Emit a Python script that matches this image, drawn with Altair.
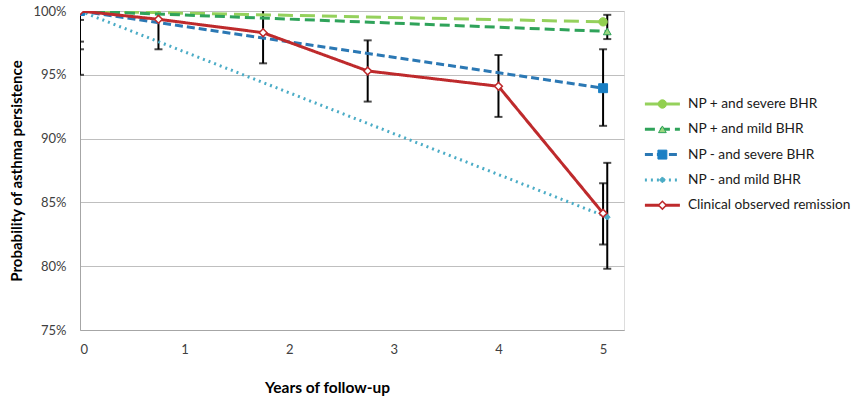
import altair as alt
import pandas as pd

# ---- data ----
series_names = ["NP + and severe BHR", "NP + and mild BHR", "NP - and severe BHR",
                "NP - and mild BHR", "Clinical observed remission"]
years_severe = [0, 5]
years_mild = [0, 5.04]
np_pos_severe = [100, 99.15]
np_pos_mild = [100, 98.4]
np_neg_severe = [100, 93.95]
np_neg_mild = [100, 83.85]
clinical_years = [0, 0.75, 1.75, 2.75, 4, 5]
clinical = [100, 99.35, 98.3, 95.3, 94.1, 84.15]

err_x = [0, 0, 0, 0, 0.75, 1.75, 2.75, 4, 5, 5, 5.04, 5.04]
err_lo = [99.3, 97.6, 97.0, 95.0, 97.0, 95.9, 92.9, 91.7, 91.0, 81.7, 97.8, 79.8]
err_hi = [100.7, 102.4, 103.0, 105.0, 101.7, 100.7, 97.7, 96.55, 97.0, 86.5, 99.7, 88.1]

y_ticks = [75, 80, 85, 90, 95, 100]
x_ticks = [0, 1, 2, 3, 4, 5]

# legend layout in legend units (35 px per x unit, one row per series)
legend_rows = [0, 1, 2, 3, 4]
legend_line = [16.14, 17.14]
legend_marker = 16.64
legend_text = 17.37

FONT = "Lato"
W, H = 544, 319

styles = [
    dict(color="#95D15C", dash=[15, 7], width=3, shape="circle", size=70, fill="#92D050", stroke="#92D050", sw=1),
    dict(color="#2FA35A", dash=[10, 5], width=3, shape="triangle-up", size=60, fill="#9BD77F", stroke="#2FA35A", sw=1),
    dict(color="#2B78B4", dash=[8, 4], width=3, shape="square", size=80, fill="#1A7FC4", stroke="#1A7FC4", sw=1),
    dict(color="#4BACC6", dash=[2, 4], width=3, shape="diamond", size=35, fill="#4BACC6", stroke="#4BACC6", sw=1),
    dict(color="#BE2A2C", dash=[1, 0], width=3, shape="diamond", size=60, fill="#FFFFFF", stroke="#BE2A2C", sw=1.5),
]
xs = [years_severe, years_mild, years_severe, years_mild, clinical_years]
ys = [np_pos_severe, np_pos_mild, np_neg_severe, np_neg_mild, clinical]

xscale = alt.Scale(domain=[0, 5.2], nice=False, zero=False)
yscale = alt.Scale(domain=[75, 100], nice=False, zero=False)
xaxis = alt.Axis(values=x_ticks, grid=False, ticks=False, domainColor="#A6A6A6",
                 labelFont=FONT, labelFontSize=13, labelColor="#404040", labelPadding=13,
                 title="Years of follow-up", titleFont=FONT, titleFontSize=15.5,
                 titleFontWeight="bold", titleColor="#000000", titleX=247, titleY=50,
                 titleBaseline="top")
yaxis = alt.Axis(values=y_ticks, grid=True, gridColor="#BFBFBF", ticks=False,
                 domainColor="#A6A6A6", labelExpr="datum.value + '%'",
                 labelFont=FONT, labelFontSize=13, labelColor="#404040", labelPadding=14,
                 title="Probability of asthma persistence", titleFont=FONT,
                 titleFontSize=15, titleFontWeight="bold", titleColor="#000000",
                 titlePadding=8)


def X():
    return alt.X("x:Q", scale=xscale, axis=xaxis)


def Y(field="y"):
    return alt.Y(f"{field}:Q", scale=yscale, axis=yaxis)


layers = []
err_df = pd.DataFrame({"x": err_x, "lo": err_lo, "hi": err_hi})
layers.append(alt.Chart(err_df).mark_rule(color="black", strokeWidth=2, clip=True)
              .encode(x=X(), y=Y("lo"), y2="hi"))
layers.append(alt.Chart(err_df).mark_tick(color="black", orient="horizontal", size=8,
                                           thickness=2, clip=True)
              .encode(x=X(), y=Y("lo")))
layers.append(alt.Chart(err_df).mark_tick(color="black", orient="horizontal", size=8,
                                           thickness=2, clip=True)
              .encode(x=X(), y=Y("hi")))
for i, name in enumerate(series_names):
    st = styles[i]
    df = pd.DataFrame({"x": xs[i], "y": ys[i]})
    layers.append(alt.Chart(df).mark_line(color=st["color"], strokeDash=st["dash"],
                                          strokeWidth=st["width"], clip=True)
                  .encode(x=X(), y=Y()))
    layers.append(alt.Chart(df).mark_point(shape=st["shape"], size=st["size"], filled=True,
                                           fill=st["fill"], stroke=st["stroke"],
                                           strokeWidth=st["sw"], opacity=1, clip=True)
                  .encode(x=X(), y=Y()))

main = alt.layer(*layers)

# ---- manual legend (own scales, no axes) ----
leg_x = alt.Scale(domain=[0, W / 35], nice=False, zero=False)
leg_y = alt.Scale(domain=[-93 / 25.3, (H - 93) / 25.3], nice=False, zero=False, reverse=True)


def LX():
    return alt.X("lx:Q", scale=leg_x, axis=None)


def LY():
    return alt.Y("row:Q", scale=leg_y, axis=None)


leg_layers = []
for i, name in enumerate(series_names):
    st = styles[i]
    seg = pd.DataFrame({"lx": legend_line, "row": [legend_rows[i]] * 2})
    mk = pd.DataFrame({"lx": [legend_marker], "row": [legend_rows[i]]})
    tx = pd.DataFrame({"lx": [legend_text], "row": [legend_rows[i]], "label": [name]})
    leg_layers.append(alt.Chart(seg).mark_line(color=st["color"], strokeDash=st["dash"],
                                               strokeWidth=st["width"])
                      .encode(x=LX(), y=LY()))
    leg_layers.append(alt.Chart(mk).mark_point(shape=st["shape"], size=st["size"], filled=True,
                                               fill=st["fill"], stroke=st["stroke"],
                                               strokeWidth=st["sw"], opacity=1)
                      .encode(x=LX(), y=LY()))
    leg_layers.append(alt.Chart(tx).mark_text(align="left", baseline="middle", font=FONT,
                                              fontSize=13.7, color="#1a1a1a")
                      .encode(x=LX(), y=LY(), text="label:N"))
legend = alt.layer(*leg_layers)

chart = alt.layer(main, legend).resolve_scale(x="independent", y="independent").properties(
    width=W, height=H,
    autosize=alt.AutoSizeParams(type="none"),
    padding={"left": 80, "top": 11, "right": 230, "bottom": 71},
).configure_view(stroke=None).configure(background="white")

chart.save("out.html", embed_options={"renderer": "svg", "actions": False})
